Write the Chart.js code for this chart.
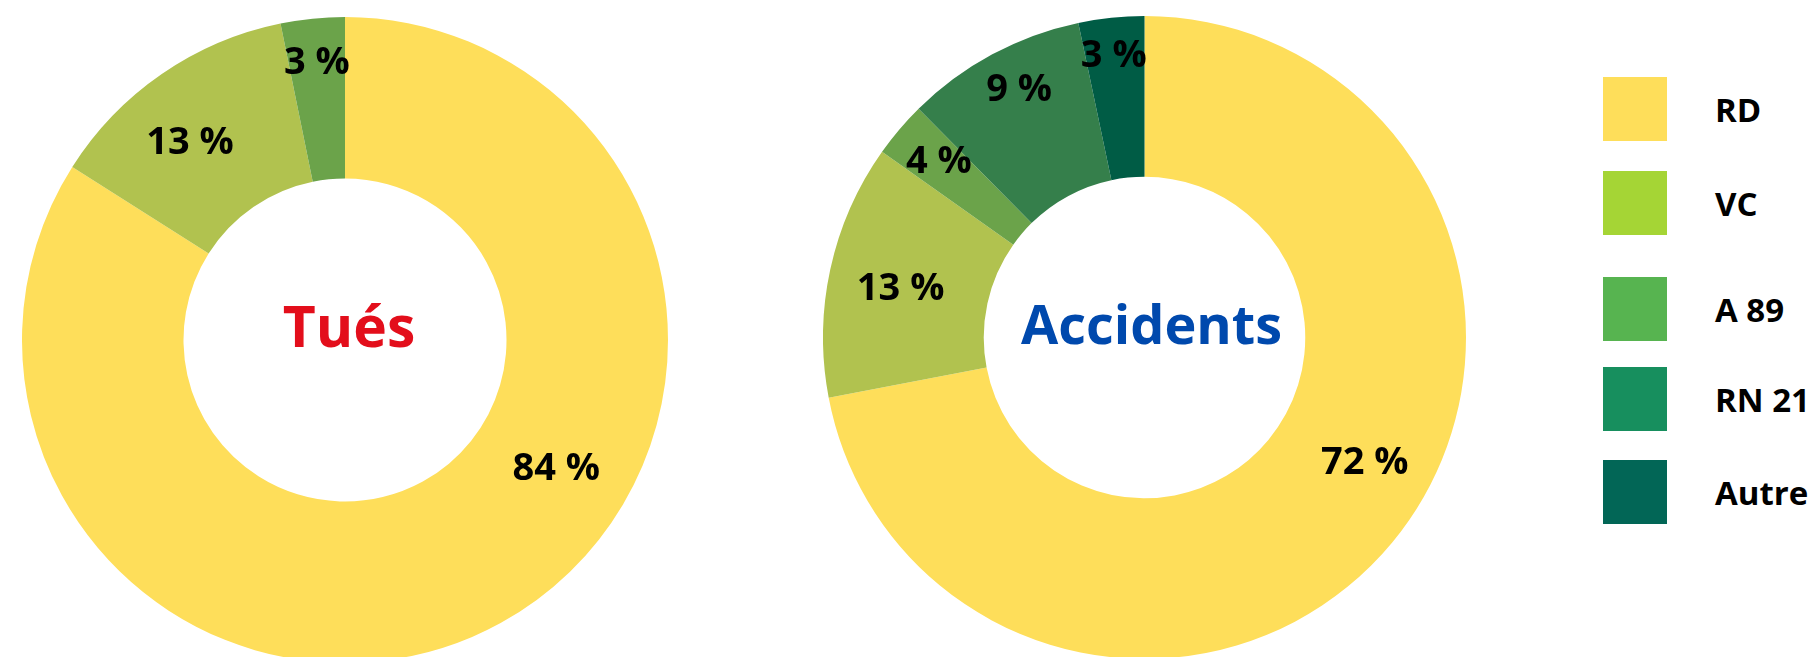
<!DOCTYPE html>
<html lang="fr">
<head>
<meta charset="utf-8">
<title>Tués et accidents par type de route</title>
<script src="https://cdn.jsdelivr.net/npm/chart.js@4.4.1/dist/chart.umd.min.js"></script>
<style>
  html, body { margin: 0; padding: 0; background: #fff; overflow: hidden; }
  body { width: 1809px; height: 657px; position: relative; font-family: "Open Sans", "Noto Sans", sans-serif; }
  .donut { position: absolute; }
  #donut-tues { left: 22px; top: 17px; width: 646px; height: 646px; }
  #donut-accidents { left: 823px; top: 16px; width: 643px; height: 643px; }
  .legend-item { position: absolute; left: 1603px; height: 64px; display: flex; align-items: center; }
  .legend-item span.swatch { width: 64px; height: 64px; display: block; }
  .legend-item span.text { position: absolute; left: 112px; white-space: nowrap; font-weight: 700; font-size: 33px; color: #000; }
</style>
</head>
<body>
<div class="donut" id="donut-tues"><canvas id="chart-tues"></canvas></div>
<div class="donut" id="donut-accidents"><canvas id="chart-accidents"></canvas></div>
<div id="legend"></div>
<script>
  // catégories de routes
  var CATEGORIES = ["RD", "VC", "A 89", "RN 21", "Autre"];
  // parts mesurées sur les secteurs (en %)
  var TUES_VALUES = [84, 12.8, 3.2];
  var ACCIDENTS_VALUES = [72, 12.8, 2.8, 9.1, 3.3];
  // étiquettes imprimées sur les secteurs
  var TUES_LABELS = ["84 %", "13 %", "3 %"];
  var ACCIDENTS_LABELS = ["72 %", "13 %", "4 %", "9 %", "3 %"];

  var SLICE_COLORS = ["#FEDE5A", "#B1C24F", "#6BA34A", "#357F4B", "#005C45"];
  var LEGEND_COLORS = ["#FEDE5A", "#A5D535", "#57B450", "#178F5E", "#026656"];
  var LEGEND_TOPS = [77, 171, 277, 367, 460];

  // étiquettes de pourcentage + texte central
  var labelPlugin = {
    id: "sliceLabels",
    afterDatasetsDraw: function (chart, args, opts) {
      var ctx = chart.ctx;
      var meta = chart.getDatasetMeta(0);
      var size = opts.fontSize;
      ctx.save();
      ctx.font = "700 " + size + "px 'Open Sans'";
      ctx.fillStyle = "#000";
      ctx.textAlign = "center";
      ctx.textBaseline = "alphabetic";
      meta.data.forEach(function (arc, i) {
        var p = arc.getProps(["x", "y", "startAngle", "endAngle", "innerRadius", "outerRadius"], true);
        var place = opts.place[i] || [0.5, 0.5];
        var angle = p.startAngle + place[0] * (p.endAngle - p.startAngle);
        var radius = p.innerRadius + place[1] * (p.outerRadius - p.innerRadius);
        var x = p.x + Math.cos(angle) * radius;
        var y = p.y + Math.sin(angle) * radius;
        ctx.fillText(opts.texts[i], x, y + size * 0.357);
      });
      var first = meta.data[0];
      ctx.font = "700 " + opts.centerSize + "px 'Open Sans'";
      ctx.fillStyle = opts.centerColor;
      ctx.fillText(opts.centerText, first.x + opts.centerDx, first.y + opts.centerSize * 0.357 - 13);
      ctx.restore();
    }
  };

  function donut(canvasId, values, texts, place, centerText, centerColor, centerSize, centerDx) {
    return new Chart(document.getElementById(canvasId), {
      type: "doughnut",
      data: {
        labels: CATEGORIES.slice(0, values.length),
        datasets: [{
          data: values,
          backgroundColor: SLICE_COLORS.slice(0, values.length),
          borderWidth: 0
        }]
      },
      options: {
        responsive: true,
        maintainAspectRatio: false,
        animation: false,
        cutout: "50%",
        layout: { padding: 0 },
        plugins: {
          legend: { display: false },
          tooltip: { enabled: false },
          sliceLabels: {
            texts: texts,
            place: place,
            fontSize: 38,
            centerText: centerText,
            centerColor: centerColor,
            centerSize: centerSize,
            centerDx: centerDx
          }
        }
      },
      plugins: [labelPlugin]
    });
  }

  donut("chart-tues", TUES_VALUES, TUES_LABELS,
    [[0.40, 0.525], [0.43, 0.566], [0.50, 0.74]],
    "Tués", "#E30E1B", 57, 4);
  donut("chart-accidents", ACCIDENTS_VALUES, ACCIDENTS_LABELS,
    [[0.46, 0.57], [0.49, 0.55], [0.55, 0.69], [0.55, 0.74], [0.48, 0.78]],
    "Accidents", "#0049AD", 54, 7);

  var legend = document.getElementById("legend");
  legend.innerHTML = CATEGORIES.map(function (name, i) {
    return '<div class="legend-item" style="top:' + LEGEND_TOPS[i] + 'px"><span class="swatch" style="background:' +
      LEGEND_COLORS[i] + '"></span><span class="text">' + name + "</span></div>";
  }).join("");
</script>
</body>
</html>
